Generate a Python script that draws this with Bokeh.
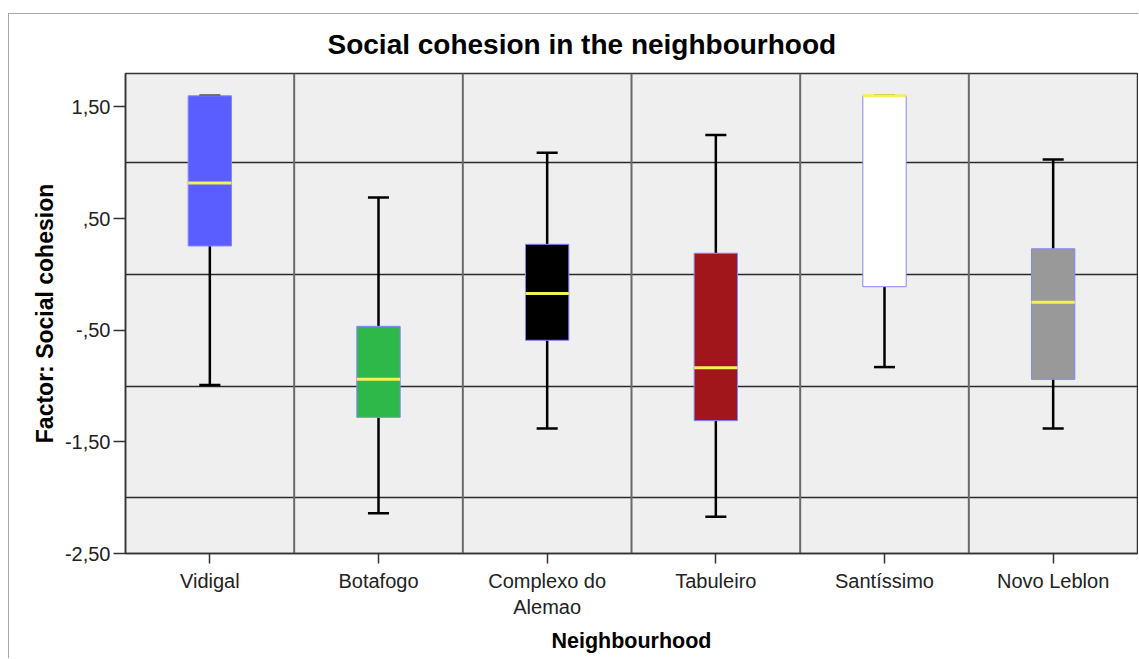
from bokeh.plotting import figure
from bokeh.models import FactorRange, Range1d, Span, FixedTicker
from bokeh.embed import file_html
from bokeh.resources import INLINE

# ---- data ----
neighbourhoods = ["Vidigal", "Botafogo", "Complexo do\nAlemao", "Tabuleiro", "Santíssimo", "Novo Leblon"]
whisker_low = [-0.99, -2.14, -1.38, -2.17, -0.83, -1.38]
q1 = [0.255, -1.28, -0.59, -1.31, -0.11, -0.94]
median = [0.82, -0.94, -0.17, -0.835, 1.60, -0.25]
q3 = [1.60, -0.465, 0.27, 0.19, 1.60, 0.23]
whisker_high = [1.60, 0.69, 1.09, 1.25, 1.60, 1.03]
box_colors = ["#5b5eff", "#2fb84a", "#000000", "#a0161b", "#ffffff", "#999999"]
y_ticks = [-2.5, -1.5, -0.5, 0.5, 1.5]
y_tick_labels = ["-2,50", "-1,50", "-,50", ",50", "1,50"]
grid_values = [-2, -1, 0, 1]

FONT = "Liberation Sans"

p = figure(
    width=1138, height=658,
    x_range=FactorRange(*neighbourhoods),
    y_range=Range1d(-2.5, 1.8),
    output_backend="svg", toolbar_location=None,
    min_border_left=125, min_border_right=1, min_border_top=73, min_border_bottom=105,
    background_fill_color="#efefef",
    border_fill_color=None,
    outline_line_color="#333333", outline_line_width=1.5,
    title="Social cohesion in the neighbourhood",
)
p.styles = {
    "background": "linear-gradient(#a8a8a8,#a8a8a8) 8px 13px / 100% 1px no-repeat, "
                  "linear-gradient(#a8a8a8,#a8a8a8) 8px 13px / 1px 100% no-repeat, #ffffff"
}

p.title.align = "left"
p.title.offset = 202
p.title.standoff = 28
p.title.text_font = FONT
p.title.text_font_size = "28px"
p.title.text_font_style = "bold"
p.title.text_color = "#000000"

# grid
p.xgrid.grid_line_color = None
p.ygrid.ticker = FixedTicker(ticks=grid_values, minor_ticks=[])
p.ygrid.grid_line_color = "#2a2a2a"
p.ygrid.grid_line_width = 1.3
for i in range(1, len(neighbourhoods)):
    p.add_layout(Span(location=i, dimension="height", line_color="#6a6a6a",
                      line_width=2, level="underlay"))

# axes
p.yaxis.ticker = FixedTicker(ticks=y_ticks, minor_ticks=[])
p.yaxis.major_label_overrides = {t: l for t, l in zip(y_ticks, y_tick_labels)}
for ax in (p.xaxis, p.yaxis):
    ax.axis_line_color = "#333333"
    ax.axis_line_width = 1.5
    ax.major_tick_line_color = "#333333"
    ax.major_tick_line_width = 1.5
    ax.major_tick_in = 0
    ax.minor_tick_line_color = None
    ax.major_label_text_font = FONT
    ax.major_label_text_font_size = "20px"
    ax.major_label_text_color = "#222222"
    ax.axis_label_text_font = FONT
    ax.axis_label_text_font_style = "bold"
    ax.axis_label_text_color = "#000000"
p.xaxis.axis_label_text_font_size = "21.5px"
p.yaxis.axis_label_text_font_size = "23px"
p.yaxis.major_tick_out = 12
p.yaxis.major_label_standoff = 3
p.xaxis.major_tick_out = 10
p.xaxis.major_label_standoff = 6
p.xaxis.axis_label = "Neighbourhood"
p.yaxis.axis_label = "Factor: Social cohesion"
p.xaxis.axis_label_standoff = 8
p.yaxis.axis_label_standoff = 4

# whiskers
p.segment(x0=neighbourhoods, y0=q3, x1=neighbourhoods, y1=whisker_high, line_color="black", line_width=2.5)
p.segment(x0=neighbourhoods, y0=q1, x1=neighbourhoods, y1=whisker_low, line_color="black", line_width=2.5)
p.rect(x=neighbourhoods, y=whisker_high, width=0.125, height=2.5, height_units="screen",
       fill_color="black", line_color=None)
p.rect(x=neighbourhoods, y=whisker_low, width=0.125, height=2.5, height_units="screen",
       fill_color="black", line_color=None)

# boxes
p.vbar(x=neighbourhoods, width=0.257, bottom=q1, top=q3, fill_color=box_colors,
       line_color="#8484ff", line_width=1)
# medians
p.rect(x=neighbourhoods, y=median, width=0.257, height=3, height_units="screen",
       fill_color="#f5ef5a", line_color=None)

open("out.html", "w").write(file_html(p, INLINE))
